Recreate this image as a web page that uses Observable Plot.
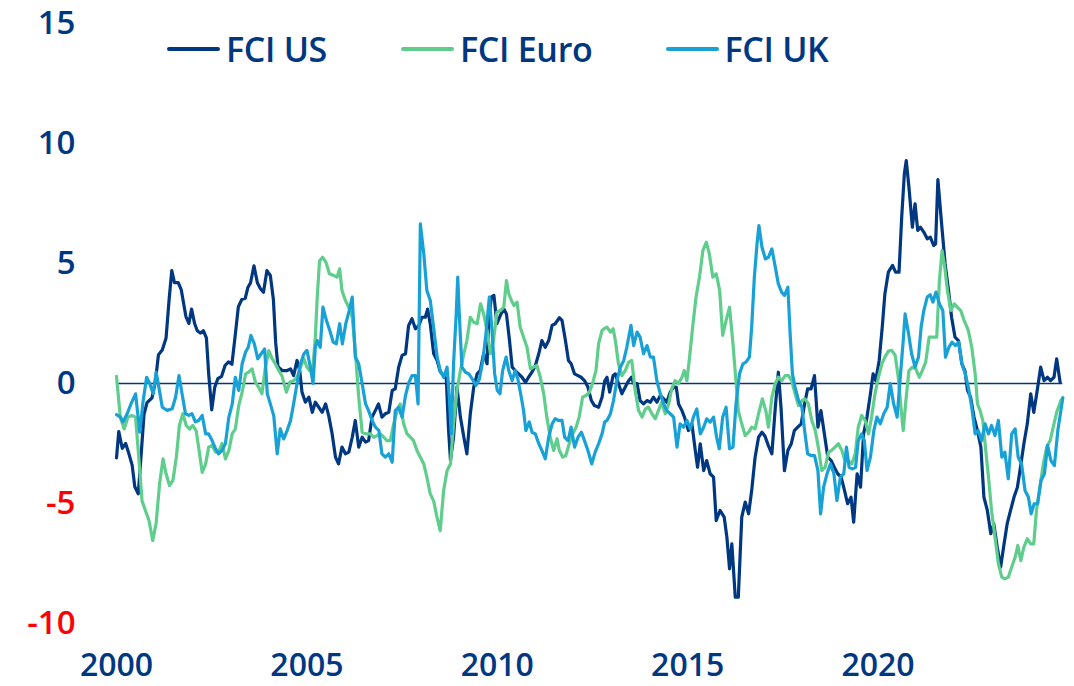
<!DOCTYPE html>
<html>
<head>
<meta charset="utf-8">
<script src="https://cdn.jsdelivr.net/npm/d3@7"></script>
<script src="https://cdn.jsdelivr.net/npm/@observablehq/plot@0.6"></script>
<style>
  html, body { margin: 0; padding: 0; background: #fff; }
  #wrap { position: relative; width: 1074px; height: 686px; font-family: "Open Sans", sans-serif; }
  #legend { position: absolute; left: 167px; top: 27px; display: flex; align-items: center; }
  .item { display: flex; align-items: center; }
  .swatch { width: 53px; height: 4px; border-radius: 2px; margin-right: 6px; }
  .lab { font-size: 34px; font-weight: 600; color: #003781; line-height: 44px; letter-spacing: -0.3px; }
</style>
</head>
<body>
<div id="wrap"><div id="legend"></div></div>
<script>
// ---- Data (decimal years, index values) ----
const seriesNames = ["FCI US", "FCI Euro", "FCI UK"];
const seriesColors = ["#003781", "#5fcd8c", "#18a1d6"];
const yTicksPos = [0, 5, 10, 15];
const yTicksNeg = [-10, -5];
const xTickYears = [2000, 2005, 2010, 2015, 2020];

const usYears = [2000.00,2000.06,2000.15,2000.24,2000.32,2000.41,2000.48,2000.57,2000.64,2000.72,2000.80,2000.93,2001.02,2001.10,2001.20,2001.30,2001.38,2001.45,2001.52,2001.62,2001.70,2001.82,2001.90,2001.97,2002.05,2002.12,2002.20,2002.28,2002.36,2002.42,2002.50,2002.58,2002.66,2002.76,2002.85,2002.94,2003.03,2003.11,2003.20,2003.29,2003.38,2003.45,2003.52,2003.61,2003.70,2003.78,2003.86,2003.95,2004.04,2004.12,2004.18,2004.24,2004.35,2004.48,2004.57,2004.65,2004.74,2004.81,2004.87,2004.96,2005.05,2005.14,2005.22,2005.31,2005.40,2005.49,2005.57,2005.66,2005.75,2005.83,2005.92,2006.01,2006.10,2006.19,2006.27,2006.36,2006.45,2006.54,2006.62,2006.71,2006.80,2006.88,2006.97,2007.06,2007.15,2007.24,2007.32,2007.41,2007.50,2007.59,2007.67,2007.76,2007.85,2007.94,2008.02,2008.11,2008.17,2008.24,2008.33,2008.42,2008.50,2008.58,2008.66,2008.72,2008.77,2008.85,2008.94,2009.03,2009.12,2009.20,2009.29,2009.38,2009.47,2009.55,2009.64,2009.73,2009.77,2009.84,2009.91,2009.99,2010.08,2010.17,2010.24,2010.32,2010.39,2010.47,2010.56,2010.65,2010.74,2010.82,2010.91,2011.00,2011.09,2011.17,2011.26,2011.35,2011.44,2011.52,2011.63,2011.70,2011.79,2011.87,2011.94,2012.03,2012.12,2012.20,2012.29,2012.38,2012.47,2012.55,2012.66,2012.75,2012.82,2012.88,2012.95,2013.04,2013.10,2013.18,2013.27,2013.36,2013.45,2013.52,2013.58,2013.67,2013.75,2013.84,2013.93,2014.02,2014.10,2014.19,2014.28,2014.37,2014.45,2014.54,2014.63,2014.70,2014.76,2014.85,2014.93,2015.02,2015.11,2015.20,2015.26,2015.33,2015.42,2015.50,2015.59,2015.68,2015.75,2015.85,2015.96,2016.03,2016.10,2016.16,2016.25,2016.33,2016.42,2016.51,2016.60,2016.68,2016.77,2016.86,2016.95,2017.03,2017.12,2017.21,2017.30,2017.38,2017.45,2017.54,2017.63,2017.72,2017.80,2017.89,2017.98,2018.07,2018.15,2018.24,2018.33,2018.42,2018.50,2018.59,2018.68,2018.77,2018.85,2018.94,2019.03,2019.12,2019.20,2019.29,2019.36,2019.45,2019.54,2019.62,2019.71,2019.80,2019.87,2019.94,2020.03,2020.11,2020.18,2020.27,2020.38,2020.46,2020.55,2020.62,2020.69,2020.74,2020.81,2020.90,2020.97,2021.04,2021.11,2021.20,2021.29,2021.37,2021.46,2021.51,2021.57,2021.66,2021.76,2021.85,2021.93,2022.02,2022.11,2022.20,2022.28,2022.35,2022.43,2022.52,2022.61,2022.70,2022.78,2022.87,2022.96,2023.04,2023.13,2023.22,2023.31,2023.39,2023.48,2023.57,2023.66,2023.74,2023.83,2023.92,2024.01,2024.09,2024.18,2024.27,2024.36,2024.45,2024.53,2024.62,2024.69,2024.78];
const usValues = [-3.1,-2.0,-2.7,-2.5,-2.9,-3.4,-4.3,-4.6,-3.1,-1.3,-0.8,-0.6,0.1,1.2,1.4,1.9,3.5,4.7,4.2,4.2,3.9,2.8,2.5,3.1,2.5,2.2,2.1,2.2,1.9,0.4,-1.1,-0.15,0.2,0.3,0.75,0.9,0.8,1.9,3.2,3.5,3.55,4.0,4.2,4.9,4.2,3.95,3.8,4.7,4.5,3.5,1.7,0.7,0.54,0.54,0.61,0.33,0.96,0.54,-0.36,-0.78,-0.57,-1.2,-0.78,-0.99,-1.2,-0.85,-1.33,-2.08,-3.07,-3.35,-2.65,-2.93,-2.86,-2.24,-1.54,-2.65,-2.24,-2.44,-2.38,-1.4,-1.12,-0.85,-1.4,-1.26,-1.2,-0.29,-0.22,0.68,1.17,1.24,2.41,2.7,2.28,2.41,2.76,2.76,3.1,2.48,1.24,0.96,0.5,0.35,0.2,-1.96,-3.2,-2.24,-0.15,-1.4,-2.24,-2.93,-1.26,-0.15,0.4,0.54,1.24,0.82,2.49,3.6,3.67,2.49,2.84,3.11,2.9,1.79,0.68,0.54,0.4,0.26,0.05,0.26,0.47,0.75,1.24,1.79,1.51,1.79,2.42,2.49,2.74,2.63,1.79,0.96,0.82,0.4,0.33,0.26,0.12,-0.15,-0.71,-0.92,-0.99,-0.57,0.1,0.26,-0.36,0.33,0.4,0.0,-0.43,-0.15,0.12,0.26,0.0,0.0,-0.71,-0.85,-0.71,-0.78,-0.57,-0.78,-0.5,-0.64,-0.78,-0.36,-0.15,-0.15,-0.85,-1.13,-1.47,-1.96,-1.68,-2.79,-3.49,-2.51,-3.63,-3.21,-3.76,-3.9,-5.71,-5.29,-5.57,-6.4,-7.72,-6.68,-8.9,-8.9,-5.57,-4.94,-5.43,-4.46,-3.07,-2.24,-2.03,-2.2,-2.6,-2.93,-0.99,0.47,-0.99,-3.63,-2.79,-2.51,-1.96,-1.82,-1.68,-0.85,-0.22,-0.22,0.33,-1.82,-1.13,-2.1,-3.07,-3.21,-3.49,-3.76,-3.9,-4.46,-5.01,-4.74,-5.78,-3.76,-4.32,-2.1,-1.4,-0.43,0.4,0.12,0.96,2.35,3.74,4.64,4.92,4.64,4.64,6.93,8.74,9.29,8.18,6.51,7.49,6.38,6.51,6.31,6.03,6.1,5.75,5.82,8.5,6.8,4.99,3.88,2.76,1.93,1.79,0.82,0.54,-0.29,-0.57,-1.4,-1.96,-2.65,-4.74,-5.29,-6.26,-5.85,-6.82,-7.65,-6.68,-5.85,-5.29,-4.74,-4.32,-3.49,-2.51,-1.68,-0.43,-1.2,-0.29,0.68,0.12,0.26,0.12,0.26,1.03,0.05];

const euroYears = [2000.00,2000.10,2000.20,2000.30,2000.40,2000.50,2000.59,2000.67,2000.76,2000.85,2000.95,2001.04,2001.13,2001.22,2001.30,2001.39,2001.48,2001.57,2001.65,2001.74,2001.83,2001.92,2002.00,2002.09,2002.18,2002.25,2002.34,2002.42,2002.51,2002.60,2002.68,2002.77,2002.86,2002.95,2003.04,2003.12,2003.21,2003.30,2003.39,2003.47,2003.56,2003.65,2003.73,2003.82,2003.91,2004.00,2004.09,2004.17,2004.26,2004.35,2004.46,2004.55,2004.65,2004.74,2004.83,2004.92,2005.00,2005.07,2005.16,2005.22,2005.27,2005.33,2005.41,2005.50,2005.59,2005.70,2005.79,2005.86,2005.92,2006.01,2006.10,2006.19,2006.27,2006.36,2006.45,2006.54,2006.67,2006.75,2006.84,2006.93,2007.02,2007.10,2007.19,2007.28,2007.37,2007.45,2007.54,2007.63,2007.72,2007.80,2007.89,2007.98,2008.07,2008.15,2008.24,2008.33,2008.42,2008.50,2008.59,2008.68,2008.77,2008.85,2008.94,2009.03,2009.12,2009.20,2009.29,2009.38,2009.47,2009.56,2009.64,2009.73,2009.82,2009.90,2009.99,2010.08,2010.17,2010.24,2010.30,2010.37,2010.44,2010.52,2010.60,2010.69,2010.78,2010.87,2010.95,2011.04,2011.13,2011.22,2011.30,2011.39,2011.48,2011.57,2011.63,2011.72,2011.80,2011.89,2011.98,2012.07,2012.15,2012.24,2012.33,2012.42,2012.50,2012.59,2012.66,2012.75,2012.82,2012.88,2012.97,2013.04,2013.10,2013.18,2013.27,2013.36,2013.45,2013.53,2013.62,2013.71,2013.80,2013.89,2013.97,2014.06,2014.15,2014.23,2014.32,2014.41,2014.50,2014.58,2014.67,2014.76,2014.85,2014.91,2014.98,2015.05,2015.14,2015.22,2015.31,2015.40,2015.49,2015.57,2015.66,2015.75,2015.84,2015.92,2016.01,2016.10,2016.19,2016.26,2016.33,2016.42,2016.51,2016.60,2016.68,2016.77,2016.86,2016.96,2017.05,2017.12,2017.21,2017.30,2017.38,2017.47,2017.56,2017.65,2017.73,2017.82,2017.91,2018.00,2018.08,2018.17,2018.26,2018.35,2018.43,2018.52,2018.61,2018.70,2018.78,2018.87,2018.96,2019.05,2019.13,2019.22,2019.31,2019.40,2019.48,2019.57,2019.66,2019.75,2019.83,2019.92,2020.01,2020.10,2020.18,2020.27,2020.36,2020.45,2020.53,2020.60,2020.66,2020.73,2020.81,2020.90,2020.99,2021.08,2021.16,2021.25,2021.34,2021.43,2021.54,2021.61,2021.68,2021.75,2021.82,2021.91,2022.00,2022.08,2022.17,2022.26,2022.37,2022.46,2022.55,2022.61,2022.68,2022.75,2022.81,2022.90,2022.98,2023.07,2023.16,2023.25,2023.33,2023.42,2023.51,2023.60,2023.67,2023.75,2023.83,2023.92,2024.01,2024.09,2024.16,2024.25,2024.34,2024.43,2024.52,2024.60,2024.69,2024.80,2024.85];
const euroValues = [0.3,-1.4,-1.9,-1.4,-1.33,-1.4,-3.2,-4.9,-5.3,-5.7,-6.55,-5.8,-4.17,-3.14,-3.76,-4.25,-4.04,-3.07,-1.75,-1.26,-1.75,-1.9,-1.75,-1.96,-2.93,-3.7,-3.35,-2.65,-2.58,-2.86,-2.86,-2.5,-3.14,-2.79,-2.08,-1.9,-0.92,-0.36,0.4,0.47,0.61,0.05,-0.15,-0.43,0.68,1.37,1.03,0.82,0.54,0.3,-0.36,0.05,0.12,0.26,0.68,1.03,0.68,0.54,0.75,1.93,3.6,5.1,5.26,5.05,4.57,4.5,4.43,4.78,3.87,3.46,3.18,2.76,1.37,-0.57,-2.03,-2.1,-2.1,-2.24,-2.17,-2.1,-2.24,-2.38,-2.38,-1.68,-1.12,-0.85,-1.68,-2.1,-2.24,-2.38,-2.79,-3.07,-3.35,-3.9,-4.6,-4.9,-5.6,-6.13,-4.46,-3.63,-3.35,-1.68,-0.29,0.54,1.24,1.79,2.76,2.55,2.49,3.32,2.9,2.21,1.24,1.79,2.97,3.04,3.18,4.29,3.74,3.46,3.25,3.39,2.35,1.93,1.51,0.61,0.68,0.75,0.26,-0.43,-1.4,-2.24,-2.79,-2.3,-2.79,-3.07,-3.0,-2.51,-2.1,-1.82,-1.4,-0.57,-0.5,-0.36,0.0,0.54,1.65,2.21,2.3,2.35,2.14,2.28,1.79,0.82,0.33,0.54,0.89,0.96,-0.29,-1.13,-1.4,-1.06,-0.99,-1.26,-1.47,-1.13,-0.78,-1.26,-0.85,-0.22,0.12,0.0,0.26,0.54,0.12,1.1,2.49,3.6,4.43,5.54,5.89,5.4,4.43,4.57,3.88,2.0,2.63,3.18,1.65,0.26,-1.13,-1.68,-2.17,-2.03,-1.82,-1.89,-1.26,-0.64,-1.13,-1.82,-0.57,0.0,0.26,0.12,0.33,0.33,0.12,-0.43,-0.92,-0.71,-0.64,-0.85,-1.54,-1.96,-2.65,-3.63,-3.49,-2.86,-2.79,-2.65,-2.51,-2.79,-3.21,-3.21,-3.35,-2.93,-1.82,-1.33,-1.54,-2.1,-1.4,-0.43,0.26,0.82,1.1,1.35,1.38,1.17,0.26,-0.99,-1.96,-0.71,0.54,0.68,0.61,0.26,0.54,0.89,1.93,1.93,1.93,4.29,5.54,4.85,3.88,3.04,3.32,3.18,3.04,2.63,2.21,1.51,0.4,-0.85,-1.13,-1.54,-2.51,-3.9,-5.29,-6.4,-7.51,-8.07,-8.14,-8.07,-7.65,-7.24,-6.75,-7.38,-6.82,-6.47,-6.68,-6.68,-5.29,-4.32,-3.35,-2.65,-2.38,-1.82,-1.2,-0.71,-0.6];

const ukYears = [2000.00,2000.10,2000.17,2000.28,2000.38,2000.50,2000.61,2000.70,2000.79,2000.87,2000.96,2001.04,2001.11,2001.20,2001.33,2001.46,2001.55,2001.64,2001.72,2001.81,2001.90,2001.98,2002.07,2002.16,2002.25,2002.34,2002.42,2002.51,2002.60,2002.68,2002.77,2002.86,2002.95,2003.04,2003.12,2003.21,2003.30,2003.39,2003.46,2003.53,2003.62,2003.71,2003.80,2003.89,2003.96,2004.04,2004.13,2004.22,2004.30,2004.39,2004.48,2004.57,2004.65,2004.74,2004.83,2004.92,2005.00,2005.09,2005.16,2005.22,2005.27,2005.35,2005.42,2005.51,2005.60,2005.69,2005.77,2005.86,2005.93,2006.02,2006.11,2006.19,2006.27,2006.36,2006.45,2006.54,2006.62,2006.71,2006.80,2006.89,2006.97,2007.06,2007.15,2007.24,2007.32,2007.41,2007.50,2007.59,2007.67,2007.76,2007.85,2007.92,2007.98,2008.07,2008.15,2008.24,2008.33,2008.42,2008.50,2008.59,2008.68,2008.74,2008.79,2008.85,2008.92,2008.96,2009.00,2009.07,2009.16,2009.25,2009.34,2009.44,2009.53,2009.62,2009.70,2009.79,2009.86,2009.93,2010.00,2010.07,2010.14,2010.23,2010.30,2010.39,2010.47,2010.54,2010.63,2010.69,2010.75,2010.84,2010.91,2011.00,2011.09,2011.17,2011.26,2011.35,2011.44,2011.52,2011.61,2011.70,2011.77,2011.86,2011.94,2012.03,2012.12,2012.21,2012.29,2012.38,2012.48,2012.57,2012.66,2012.75,2012.82,2012.88,2012.97,2013.05,2013.14,2013.23,2013.32,2013.40,2013.51,2013.58,2013.67,2013.75,2013.84,2013.93,2014.02,2014.10,2014.19,2014.28,2014.37,2014.45,2014.54,2014.63,2014.72,2014.80,2014.89,2014.98,2015.07,2015.15,2015.24,2015.33,2015.42,2015.50,2015.59,2015.68,2015.76,2015.83,2015.92,2016.01,2016.10,2016.19,2016.27,2016.36,2016.45,2016.53,2016.62,2016.68,2016.75,2016.82,2016.87,2016.95,2017.04,2017.12,2017.21,2017.30,2017.38,2017.47,2017.54,2017.63,2017.69,2017.75,2017.82,2017.91,2018.00,2018.07,2018.15,2018.24,2018.33,2018.42,2018.49,2018.57,2018.66,2018.75,2018.84,2018.92,2019.01,2019.10,2019.17,2019.24,2019.33,2019.41,2019.48,2019.57,2019.64,2019.71,2019.80,2019.89,2019.97,2020.06,2020.15,2020.24,2020.32,2020.41,2020.50,2020.59,2020.66,2020.71,2020.80,2020.88,2020.97,2021.06,2021.13,2021.20,2021.29,2021.37,2021.44,2021.52,2021.61,2021.70,2021.77,2021.86,2021.94,2022.03,2022.12,2022.20,2022.29,2022.37,2022.46,2022.55,2022.63,2022.72,2022.81,2022.90,2022.98,2023.07,2023.16,2023.25,2023.33,2023.42,2023.51,2023.60,2023.68,2023.77,2023.86,2023.95,2024.02,2024.10,2024.19,2024.28,2024.37,2024.45,2024.54,2024.63,2024.72,2024.80,2024.85];
const ukValues = [-1.3,-1.4,-1.6,-1.26,-0.85,-0.43,-2.03,-0.71,0.26,0.0,-0.43,0.47,-0.15,-0.99,-1.12,-1.05,-0.57,0.33,-0.43,-1.26,-1.33,-1.26,-1.6,-1.54,-1.33,-2.1,-2.1,-2.38,-2.72,-2.93,-2.79,-2.5,-1.4,-0.85,0.26,-0.29,0.82,1.31,1.51,2.0,1.65,1.03,1.24,1.44,-0.43,-0.85,-1.35,-2.93,-1.89,-2.31,-1.96,-1.54,-0.85,0.0,0.82,1.24,1.38,0.68,0.0,1.51,1.79,1.51,3.18,2.63,2.21,1.72,1.65,2.49,1.65,2.49,3.04,3.6,1.1,0.82,0.0,-0.85,-1.13,-1.54,-1.82,-1.96,-2.93,-3.07,-2.93,-3.28,-1.13,-0.99,-1.4,-0.5,0.0,0.33,0.33,-0.85,6.65,5.4,3.88,3.46,2.3,1.1,0.54,0.26,0.68,-0.57,-2.1,0.82,2.9,4.43,2.9,0.68,0.47,0.4,0.19,-0.08,0.19,0.96,2.07,3.6,2.21,0.4,-0.29,-0.43,0.54,1.1,0.54,0.12,0.54,0.19,-0.57,-1.13,-1.96,-1.6,-2.03,-2.1,-2.51,-2.79,-3.14,-2.24,-1.68,-1.47,-1.54,-1.54,-2.24,-2.38,-1.82,-2.65,-2.24,-2.03,-2.38,-2.79,-3.35,-2.86,-2.51,-2.1,-1.6,-1.54,-1.26,-0.71,0.12,0.68,0.96,1.51,2.42,1.58,2.14,1.93,1.24,1.58,1.1,1.1,0.12,-0.43,-0.85,-1.13,-1.26,-1.4,-2.65,-1.68,-1.82,-1.54,-1.89,-1.4,-1.06,-2.1,-1.82,-1.47,-1.61,-1.4,-2.24,-2.72,-1.4,-0.99,-2.72,-2.65,-0.85,0.4,0.82,0.89,1.1,2.35,4.43,5.82,6.58,5.68,5.19,5.26,5.61,4.85,4.15,3.8,3.67,4.01,2.07,0.4,-0.15,-0.71,-0.99,-1.96,-2.93,-3.0,-3.0,-3.63,-5.43,-4.32,-3.76,-3.35,-3.76,-4.88,-3.9,-3.76,-2.65,-3.49,-3.56,-3.49,-2.38,-2.1,-2.38,-3.63,-3.07,-1.96,-1.4,-1.68,-1.26,-0.99,0.0,-0.85,-1.4,0.4,1.79,2.9,2.07,1.24,0.68,1.1,2.35,3.04,3.6,3.7,3.39,3.81,3.32,3.04,1.1,1.51,1.72,1.58,1.72,0.82,0.4,-0.15,-0.99,-2.1,-1.96,-2.38,-1.68,-2.1,-1.75,-2.17,-1.54,-3.07,-2.86,-3.97,-2.1,-1.89,-3.07,-3.35,-4.46,-4.74,-5.43,-5.01,-5.01,-4.04,-3.76,-2.58,-3.21,-3.42,-1.96,-1.13,-0.6];

// ---- Build table ----
function toDate(y) {
  const yr = Math.floor(y);
  const a = Date.UTC(yr, 0, 1), b = Date.UTC(yr + 1, 0, 1);
  return new Date(a + (y - yr) * (b - a));
}
const allYears = [usYears, euroYears, ukYears];
const allValues = [usValues, euroValues, ukValues];
const rows = [];
seriesNames.forEach((name, i) => {
  allYears[i].forEach((y, j) => rows.push({series: name, date: toDate(y), value: allValues[i][j]}));
});
const firstDate = d3.min(rows, d => d.date);
const lastDate = d3.max(rows, d => d.date);

const navy = "#003781";
const red = "#ff0000";
const plainFormat = d => String(d);

const chart = Plot.plot({
  width: 1074,
  height: 686,
  marginLeft: 116,
  marginRight: 6,
  marginTop: 23,
  marginBottom: 63,
  style: {fontFamily: "'Open Sans', sans-serif", background: "#fff"},
  x: {type: "utc", domain: [new Date(Date.UTC(2000, 0, 1)), new Date(Date.UTC(2025, 0, 1))]},
  y: {domain: [-10, 15]},
  color: {domain: seriesNames, range: seriesColors},
  marks: [
    Plot.ruleY([0], {x1: firstDate, x2: lastDate, stroke: navy, strokeWidth: 1.6}),
    Plot.lineY(rows, {x: "date", y: "value", z: "series", stroke: "series", strokeWidth: 3.2, strokeLinejoin: "round", strokeLinecap: "round"}),
    Plot.axisY(yTicksPos, {tickSize: 0, tickPadding: 41, fontSize: 33, fontWeight: 600, fill: navy, tickFormat: plainFormat, label: null}),
    Plot.axisY(yTicksNeg, {tickSize: 0, tickPadding: 41, fontSize: 33, fontWeight: 600, fill: red, tickFormat: plainFormat, label: null}),
    Plot.axisX(xTickYears.map(y => new Date(Date.UTC(y, 0, 1))), {tickSize: 0, tickPadding: 30, fontSize: 32, fontWeight: 600, fill: navy, tickFormat: d3.utcFormat("%Y"), label: null})
  ]
});
document.getElementById("wrap").prepend(chart);

// ---- Legend ----
const legend = document.getElementById("legend");
const legendGaps = [74, 73, 0];
seriesNames.forEach((name, i) => {
  const item = document.createElement("div");
  item.className = "item";
  item.style.marginRight = legendGaps[i] + "px";
  const sw = document.createElement("div");
  sw.className = "swatch";
  sw.style.background = seriesColors[i];
  const lab = document.createElement("span");
  lab.className = "lab";
  lab.textContent = name;
  item.append(sw, lab);
  legend.append(item);
});
</script>
</body>
</html>
